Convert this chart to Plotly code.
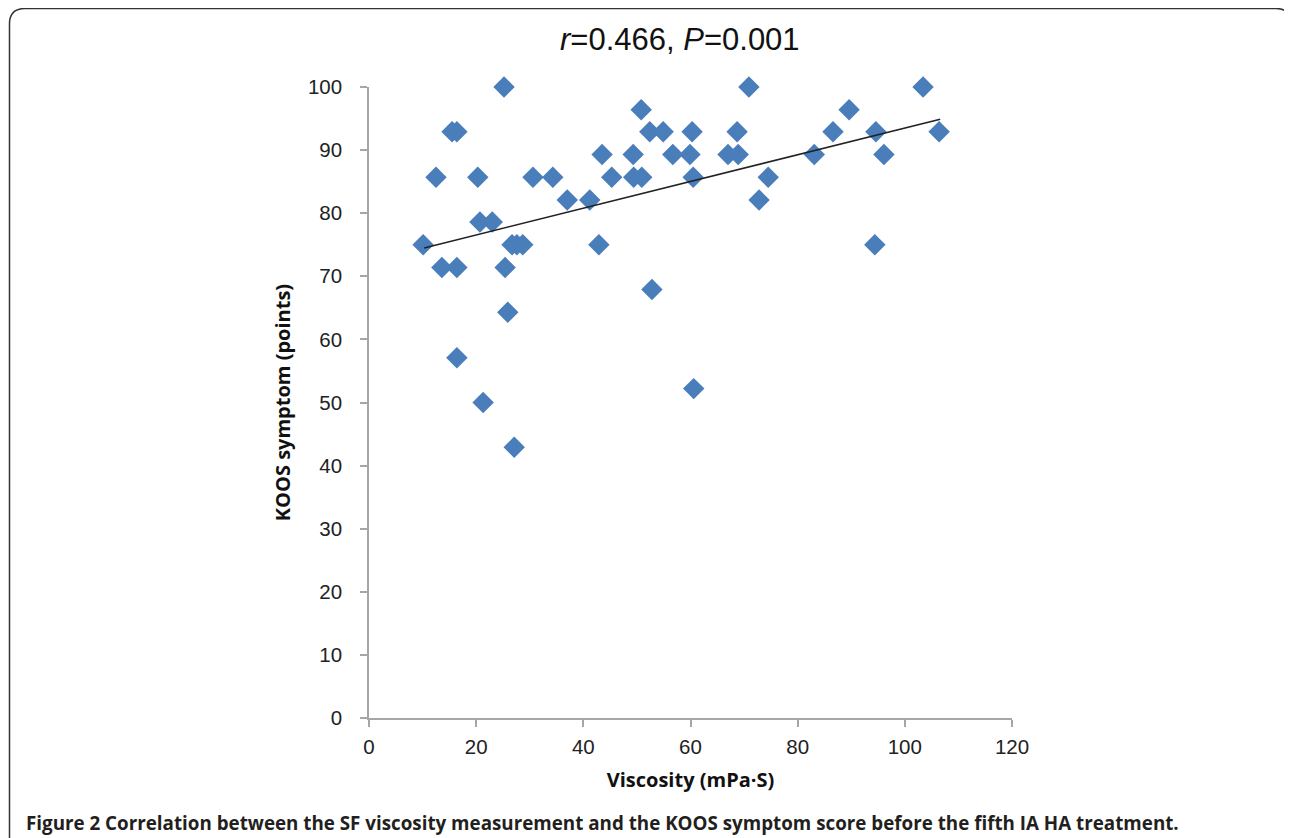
import plotly.graph_objects as go

# ---- data ----
viscosity = [10.1, 12.5, 13.6, 15.5, 16.4, 16.4, 16.4, 20.3, 20.7, 21.3, 23.0,
             25.2, 25.4, 25.9, 26.7, 27.1, 27.6, 28.7, 30.6, 34.3, 37.0, 41.2,
             42.9, 43.5, 45.3, 49.3, 49.4, 50.9, 50.8, 52.8, 52.4, 54.9, 56.7,
             59.9, 60.3, 60.5, 60.6, 67.0, 68.9, 68.7, 70.9, 72.8, 74.5, 83.1,
             86.6, 89.6, 94.6, 94.4, 96.1, 103.4, 106.4]
koos = [75.0, 85.7, 71.4, 92.9, 92.9, 71.4, 57.1, 85.7, 78.6, 50.0, 78.6,
        100.0, 71.4, 64.3, 75.0, 42.9, 75.0, 75.0, 85.7, 85.7, 82.1, 82.1,
        75.0, 89.3, 85.7, 89.3, 85.7, 85.7, 96.4, 67.9, 92.9, 92.9, 89.3,
        89.3, 92.9, 85.7, 52.2, 89.3, 89.3, 92.9, 100.0, 82.1, 85.7, 89.3,
        92.9, 96.4, 92.9, 75.0, 89.3, 100.0, 92.9]
trend_x = [10.3, 106.6]
trend_y = [74.5, 94.9]
x_ticks = [0, 20, 40, 60, 80, 100, 120]
y_ticks = [0, 10, 20, 30, 40, 50, 60, 70, 80, 90, 100]

title_text = "<i>r</i>=0.466, <i>P</i>=0.001"
x_title = "Viscosity (mPa·S)"
y_title = "KOOS symptom (points)"
caption = ("<b>Figure 2 Correlation between the SF viscosity measurement and the "
           "KOOS symptom score before the fifth IA HA treatment.</b>")

# the page body has an 8px margin, so the figure starts at (8, 8) in the window
OFF = 8
W, H = 1292 - OFF, 838 - OFF
L, R, T, B = 369 - OFF, 1012 - OFF, 87 - OFF, 718 - OFF  # plot area in figure pixels


def px(x, y):
    """window pixel -> paper coords"""
    x -= OFF
    y -= OFF
    return (x - L) / (R - L), (B - y) / (B - T)


fig = go.Figure()
fig.add_trace(go.Scatter(
    x=viscosity, y=koos, mode="markers",
    marker=dict(symbol="diamond", size=16.5, color="#4a7ebb",
                line=dict(width=0)),
    cliponaxis=False, showlegend=False))
fig.add_trace(go.Scatter(
    x=trend_x, y=trend_y, mode="lines",
    line=dict(color="#222222", width=1.5),
    cliponaxis=False, showlegend=False))

axis_common = dict(showgrid=False, zeroline=False, showline=True,
                   linecolor="#a6a6a6", linewidth=1.5,
                   ticks="outside", ticklen=7, tickwidth=1.5, tickcolor="#a6a6a6",
                   tickfont=dict(family="Liberation Sans Narrow, Arial Narrow, Liberation Sans, sans-serif",
                                 size=20.5, color="#222222"))

fig.update_xaxes(range=[0, 120], tickvals=x_ticks, ticklabelstandoff=3,
                 title=dict(text=x_title, standoff=16,
                            font=dict(family="Open Sans, sans-serif", size=20,
                                      color="#111111", weight="bold")),
                 **axis_common)
fig.update_yaxes(range=[0, 100], tickvals=y_ticks, ticklabelstandoff=14,
                 title=dict(text=y_title, standoff=12,
                            font=dict(family="Open Sans, sans-serif", size=20,
                                      color="#111111", weight="bold")),
                 **axis_common)

# title
tx, ty = px(680, 40)
fig.add_annotation(text=title_text, x=tx, y=ty, xref="paper", yref="paper",
                   showarrow=False, xanchor="center", yanchor="middle",
                   font=dict(family="Liberation Sans Narrow, Arial Narrow, sans-serif",
                             size=31, color="#111111"))
# caption
cx, cy = px(24, 823)
fig.add_annotation(text=caption, x=cx, y=cy, xref="paper", yref="paper",
                   showarrow=False, xanchor="left", yanchor="middle",
                   font=dict(family="Open Sans, sans-serif", size=18.8, color="#231f20"))


# rounded frame (top-left and top-right corners)
def p(x, y):
    a, b = px(x, y)
    return f"{a:.5f},{b:.5f}"


path = (f"M {p(9.5, 845)} L {p(9.5, 24)} Q {p(9.5, 8.5)} {p(25, 8.5)} "
        f"L {p(1276, 8.5)} Q {p(1291, 8.5)} {p(1291, 24)} L {p(1291, 845)}")
fig.add_shape(type="path", path=path, xref="paper", yref="paper",
              line=dict(color="#333333", width=1.5), layer="above")

fig.update_layout(width=W, height=H, autosize=False,
                  margin=dict(l=L, r=W - R, t=T, b=H - B, pad=0),
                  plot_bgcolor="white", paper_bgcolor="white")

fig.write_html("out.html")
